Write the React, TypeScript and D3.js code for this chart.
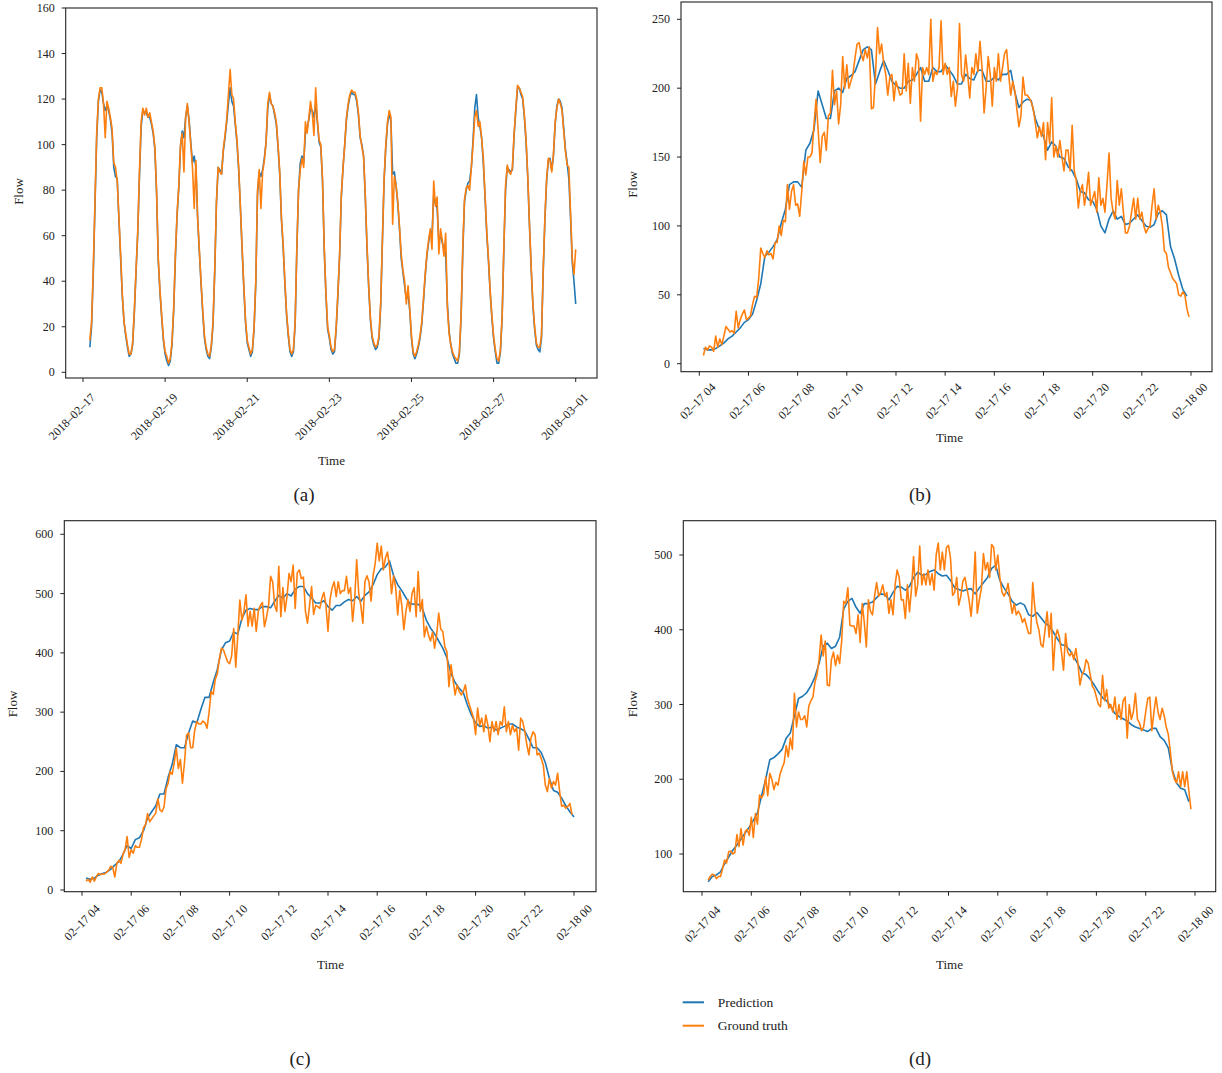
import React from 'react';
import * as d3 from 'd3';

// ---------- data ----------
// (a) hourly, from 2018-02-17 04:00 to 2018-03-01 00:00
const A_START = '2018-02-17T04:00:00Z';
const A_TRUTH = [
  14,22,45,75,105,120,125,125,118,103,119,116,112,107,92,90,84,68,52,34,22,17,12,8,8,
  13,27,45,62,88,110,116,113,116,112,114,110,106,99,80,50,36,25,15,9,7,4,6,13,28,
  52,70,82,100,105,88,112,118,110,100,90,72,93,68,54,40,27,16,11,8,7,12,22,45,75,
  90,88,87,98,104,111,122,133,122,120,110,102,90,73,55,38,23,14,11,8,10,20,40,80,89,
  72,88,93,101,118,123,118,117,114,110,100,88,68,56,40,26,17,10,8,10,22,55,80,89,94,
  90,110,105,112,119,114,104,125,111,102,100,85,55,35,20,16,11,9,10,20,35,52,78,90,100,
  112,118,122,124,123,123,120,114,104,99,95,78,56,38,24,16,13,11,12,16,30,58,85,100,110,
  115,112,65,86,82,75,64,52,45,40,30,38,28,16,9,7,9,12,16,22,32,43,52,58,63,
  54,84,73,77,52,63,58,51,61,28,17,12,9,7,6,5,9,25,55,76,81,82,80,90,100,
  112,115,108,110,103,94,78,62,50,36,25,16,10,6,5,10,25,55,82,91,88,87,90,105,116,
  126,125,123,121,113,102,86,65,46,30,20,13,11,11,16,45,68,85,94,93,88,96,110,116,120,
  118,115,106,97,91,90,70,50,43,54
];
const A_PRED = [
  11,20,43,73,103,119,124,123,118,115,117,115,111,105,90,86,85,67,50,33,22,16,11,7,8,
  12,26,44,61,86,108,115,114,114,112,112,109,105,98,79,49,35,24,14,8,5,3,5,12,27,
  50,69,81,99,106,103,112,117,111,101,92,95,90,68,53,39,26,15,10,7,6,11,21,44,74,
  90,89,87,97,103,110,118,125,119,117,109,101,89,72,54,37,22,13,10,7,9,19,39,78,88,
  86,89,94,101,116,122,118,117,113,109,99,87,67,55,39,25,16,9,7,9,21,54,80,92,95,
  92,105,107,111,116,115,112,118,110,101,99,84,54,34,19,15,10,8,9,19,34,51,77,90,100,
  111,117,121,123,122,122,119,113,103,100,95,77,55,37,23,15,12,10,11,15,29,57,84,99,109,
  114,110,87,88,82,74,63,50,44,38,32,35,27,15,8,6,8,11,15,21,31,42,51,57,62,
  60,78,74,72,58,60,57,54,52,30,18,12,8,6,4,4,8,24,53,75,80,83,84,90,102,
  116,122,112,108,103,92,77,61,49,35,24,15,9,4,4,9,24,54,80,90,89,88,89,104,115,
  125,125,122,120,112,101,85,64,45,29,19,12,10,9,15,44,67,84,93,94,89,95,109,117,120,
  119,116,107,98,92,85,68,48,40,30
];
const A_XTICKS = ['2018-02-17', '2018-02-19', '2018-02-21', '2018-02-23', '2018-02-25', '2018-02-27', '2018-03-01'];
const A_YTICKS = [0, 20, 40, 60, 80, 100, 120, 140, 160];

// (b) 5-min truth, 10-min prediction, from 04:10
const B_START = '2018-02-17T04:10:00Z';
const B_TRUTH = [
  6,12,10,13,12,9,20,12,18,14, 20,27,25,23,24,22,38,26,32,36,
  39,32,33,35,43,49,48,62,84,80, 77,82,79,80,76,88,88,100,93,104,
  103,130,112,125,130,115,116,107,125,147, 137,150,150,153,174,192,170,146,165,168,
  155,180,182,213,188,198,174,188,223,200, 217,200,205,210,222,232,233,225,220,228,
  222,230,185,186,210,244,225,232,218,210, 195,208,210,191,205,200,195,196,225,198,
  218,189,215,205,225,220,176,215,210,215, 210,250,205,212,210,215,249,210,218,210,
  215,194,205,187,200,247,210,205,224,210, 193,215,210,225,212,234,215,182,200,223,
  210,187,215,205,225,205,215,225,228,210, 195,205,198,185,172,180,208,195,195,193,
  190,185,175,164,172,165,175,148,175,160, 193,150,158,150,162,150,140,155,155,140,
  173,140,133,113,125,130,115,125,139,115, 120,125,110,135,115,120,110,130,153,120,
  110,105,133,115,127,110,95,95,100,110, 120,105,120,105,110,100,95,98,100,115,
  127,105,115,110,100,82,80,70,66,62, 60,58,50,49,52,50,40,34
];
const B_PRED = [
  11,10,10,11,13,15,18,20,23,26, 30,32,36,46,58,78,81,85,90,102,
  112,130,132,132,128,155,160,170,198,188, 178,178,198,200,197,207,209,212,220,228,
  230,228,203,212,220,213,205,202,200,200, 205,206,210,215,205,205,215,212,212,217,
  213,209,203,203,210,207,206,213,213,205, 205,208,206,210,210,213,197,186,190,192,
  191,178,170,165,155,161,158,150,149,143, 140,134,125,124,119,118,112,100,95,105,
  111,105,107,101,102,105,108,104,100,99, 101,109,111,108,85,76,64,54,49
];
const B_YTICKS = [0, 50, 100, 150, 200, 250];

// (c)
const C_START = '2018-02-17T04:10:00Z';
const C_TRUTH = [
  15,18,13,22,15,22,28,26,27,27, 30,33,40,38,22,45,50,45,60,68,
  90,55,68,62,75,72,72,85,105,110, 129,115,120,125,130,154,135,132,140,171,
  180,200,195,215,239,205,220,180,215,261, 265,240,240,270,284,280,280,285,282,273,
  300,335,330,355,365,390,408,405,395,385, 382,395,441,376,430,489,455,470,498,445,
  470,445,475,436,470,480,485,444,460,480, 529,520,480,470,546,461,510,470,495,534,
  520,548,475,535,540,525,528,470,450,480, 512,465,480,478,475,492,502,480,436,490,
  510,520,495,520,500,505,505,529,500,510, 453,490,557,500,480,450,520,530,520,487,
  530,550,585,555,580,540,560,570,545,500, 530,510,464,505,480,439,470,490,470,500,
  510,461,537,470,490,427,445,430,420,435, 408,430,467,440,436,410,402,343,380,355,
  329,346,335,329,335,346,323,312,301,290, 262,307,278,290,267,295,278,250,284,267,
  284,262,284,278,309,267,284,262,278,267, 273,236,290,284,267,245,228,256,267,262,
  228,231,222,211,177,166,188,172,183,177, 197,166,141,143,138,141,146,127
];
const C_PRED = [
  20,18,20,25,28,30,35,42,48,60, 75,70,85,88,100,122,132,142,162,162,
  190,212,245,240,240,265,285,282,305,325, 325,350,372,405,417,420,435,432,458,472,
  475,473,473,478,478,476,487,497,492,500, 496,507,512,512,500,493,484,484,488,478,
  472,480,480,486,490,488,495,487,497,503, 515,532,542,545,555,530,515,505,493,483,
  482,482,475,455,442,432,420,408,392,365, 350,340,333,312,295,282,276,277,273,275,
  270,273,276,280,280,275,272,268,255,240, 240,232,215,188,168,165,155,142,132,123
];
const C_YTICKS = [0, 100, 200, 300, 400, 500, 600];

// (d)
const D_START = '2018-02-17T04:15:00Z';
const D_TRUTH = [
  65,70,73,72,67,70,70,80,92,88, 103,104,100,102,126,110,134,112,130,133,
  125,149,122,154,140,179,175,180,203,178, 208,200,186,196,192,207,215,222,245,230,
  255,240,315,270,290,280,280,285,270,298, 305,310,330,340,360,393,365,385,326,325,
  360,370,352,366,355,385,438,435,456,406, 405,405,395,420,383,435,410,377,440,425,
  420,445,463,445,450,460,445,450,422,440, 420,460,480,470,440,440,415,460,424,455,
  498,445,460,512,460,475,460,480,460,475, 453,500,516,480,504,480,510,513,495,446,
  450,470,433,445,465,470,455,440,418,450, 504,422,440,455,502,480,490,470,514,510,
  480,500,470,451,445,450,462,440,422,435, 420,425,420,410,415,405,395,395,463,430,
  410,400,380,377,400,424,390,422,346,390, 400,390,370,346,395,370,365,370,360,375,
  355,326,340,345,360,355,340,325,320,310, 300,297,339,305,320,295,300,290,310,280,
  300,280,305,310,255,300,280,290,315,280, 275,265,270,290,308,310,265,290,310,290,
  280,295,285,270,260,237,210,200,195,210, 190,210,190,210,185,160
];
const D_PRED = [
  63,70,72,76,87,96,105,112,120,128, 136,145,155,178,200,226,229,234,240,255,
  262,285,308,311,316,325,337,355,378,382, 375,378,390,428,438,442,430,422,435,435,
  437,443,448,447,440,450,458,457,453,458, 470,477,473,474,478,480,475,472,473,466,
  456,454,452,454,455,448,456,463,470,482, 486,466,456,448,438,433,436,433,420,418,
  423,416,409,405,397,388,380,379,373,364, 354,342,340,334,326,317,309,305,297,288,
  284,281,278,273,270,268,266,264,268,268, 257,252,242,212,195,188,186,170
];
const D_YTICKS = [100, 200, 300, 400, 500];

const HOUR_TICKS = [
  '2018-02-17T04:00:00Z', '2018-02-17T06:00:00Z', '2018-02-17T08:00:00Z', '2018-02-17T10:00:00Z',
  '2018-02-17T12:00:00Z', '2018-02-17T14:00:00Z', '2018-02-17T16:00:00Z', '2018-02-17T18:00:00Z',
  '2018-02-17T20:00:00Z', '2018-02-17T22:00:00Z', '2018-02-18T00:00:00Z'
];

const LEGEND = ['Prediction', 'Ground truth'];
const CAPTIONS = ['(a)', '(b)', '(c)', '(d)'];

// ---------- drawing ----------
const BLUE = '#1f77b4';
const ORANGE = '#ff7f0e';
const INK = '#222';
const FONT = '"Liberation Serif", "Times New Roman", serif';

type Pt = { t: Date; v: number };
function toSeries(values: number[], start: string, stepMin: number): Pt[] {
  const t0 = Date.parse(start);
  return values.map((v, i) => ({ t: new Date(t0 + i * stepMin * 60000), v }));
}

const fmtDay = (d: Date) => d3.utcFormat('%Y-%m-%d')(d).replace(/-/g, '\u2013');
const fmtHour = (d: Date) => d3.utcFormat('%m-%d %H')(d).replace(/-/g, '\u2013');

type PanelProps = {
  frame: [number, number, number, number]; // left, right, top, bottom
  xDomain: [Date, Date];
  xRange: [number, number];
  yDomain: [number, number];
  yRange: [number, number];
  xTicks: Date[];
  fmt: (d: Date) => string;
  yTicks: number[];
  lab: [number, number];
  pred: Pt[];
  truth: Pt[];
  flow: [number, number];
  time: [number, number];
  caption: string;
  cap: [number, number];
};

function Panel(p: PanelProps) {
  const [l, r, t, b] = p.frame;
  const x = d3.scaleUtc().domain(p.xDomain).range(p.xRange);
  const y = d3.scaleLinear().domain(p.yDomain).range(p.yRange);
  const line = d3.line<Pt>().x((d) => x(d.t)).y((d) => y(d.v));
  return (
    <g>
      <path d={line(p.pred) || ''} fill="none" stroke={BLUE} strokeWidth={1.6} strokeLinejoin="round" />
      <path d={line(p.truth) || ''} fill="none" stroke={ORANGE} strokeWidth={1.6} strokeLinejoin="round" />
      <rect x={l} y={t} width={r - l} height={b - t} fill="none" stroke={INK} strokeWidth={1.1} />
      {p.yTicks.map((v) => (
        <g key={'y' + v}>
          <line x1={l - 4} x2={l} y1={y(v)} y2={y(v)} stroke={INK} strokeWidth={1} />
          <text x={l - 11} y={y(v)} textAnchor="end" dominantBaseline="central" fontSize={12} fill={INK}>
            {v}
          </text>
        </g>
      ))}
      {p.xTicks.map((d, i) => (
        <g key={'x' + i}>
          <line x1={x(d)} x2={x(d)} y1={b} y2={b + 4} stroke={INK} strokeWidth={1} />
          <text
            transform={`translate(${x(d) + p.lab[0]},${b + p.lab[1]}) rotate(-45)`}
            textAnchor="middle"
            dominantBaseline="central"
            fontSize={12}
            fill={INK}
          >
            {p.fmt(d)}
          </text>
        </g>
      ))}
      <text
        transform={`translate(${p.flow[0]},${p.flow[1]}) rotate(-90)`}
        textAnchor="middle"
        dominantBaseline="central"
        fontSize={13}
        fill={INK}
      >
        Flow
      </text>
      <text x={p.time[0]} y={p.time[1]} textAnchor="middle" dominantBaseline="central" fontSize={13} fill={INK}>
        Time
      </text>
      <text x={p.cap[0]} y={p.cap[1]} textAnchor="middle" dominantBaseline="central" fontSize={19} fill={INK}>
        {p.caption}
      </text>
    </g>
  );
}

export default function App() {
  const dayTicks = A_XTICKS.map((s) => new Date(s + 'T00:00:00Z'));
  const hourTicks = HOUR_TICKS.map((s) => new Date(s));
  const h0 = hourTicks[0];
  const h1 = hourTicks[hourTicks.length - 1];
  return (
    <svg
      width={1222}
      height={1073}
      style={{ position: 'absolute', left: 0, top: 0, background: '#fff', fontFamily: FONT }}
    >
      <rect x={0} y={0} width={1222} height={1073} fill="#fff" />
      <Panel
        frame={[65.7, 597, 8, 378]}
        xDomain={[dayTicks[0], dayTicks[dayTicks.length - 1]]}
        xRange={[83, 575.7]}
        yDomain={[0, 160]}
        yRange={[372.3, 8]}
        xTicks={dayTicks}
        fmt={fmtDay}
        yTicks={A_YTICKS}
        lab={[-11, 38.7]}
        pred={toSeries(A_PRED, A_START, 60)}
        truth={toSeries(A_TRUTH, A_START, 60)}
        flow={[18, 191.5]}
        time={[331.5, 460]}
        caption={CAPTIONS[0]}
        cap={[304, 494]}
      />
      <Panel
        frame={[681, 1212, 2, 371.7]}
        xDomain={[h0, h1]}
        xRange={[699.3, 1191]}
        yDomain={[0, 250]}
        yRange={[363.7, 19.3]}
        xTicks={hourTicks}
        fmt={fmtHour}
        yTicks={B_YTICKS}
        lab={[-1.5, 29.5]}
        pred={toSeries(B_PRED, B_START, 10)}
        truth={toSeries(B_TRUTH, B_START, 5)}
        flow={[632, 184.5]}
        time={[949.5, 437]}
        caption={CAPTIONS[1]}
        cap={[920, 494]}
      />
      <Panel
        frame={[64.3, 596, 520.7, 891.7]}
        xDomain={[h0, h1]}
        xRange={[82, 574]}
        yDomain={[0, 600]}
        yRange={[890, 534.3]}
        xTicks={hourTicks}
        fmt={fmtHour}
        yTicks={C_YTICKS}
        lab={[0, 30.8]}
        pred={toSeries(C_PRED, C_START, 10)}
        truth={toSeries(C_TRUTH, C_START, 5)}
        flow={[12.5, 704]}
        time={[330.5, 964.5]}
        caption={CAPTIONS[2]}
        cap={[300, 1058]}
      />
      <Panel
        frame={[683.3, 1215.7, 520.7, 891.7]}
        xDomain={[h0, h1]}
        xRange={[702, 1195]}
        yDomain={[100, 500]}
        yRange={[854, 555]}
        xTicks={hourTicks}
        fmt={fmtHour}
        yTicks={D_YTICKS}
        lab={[0.5, 32.5]}
        pred={toSeries(D_PRED, D_START, 10)}
        truth={toSeries(D_TRUTH, D_START, 5)}
        flow={[632, 704]}
        time={[949.5, 964]}
        caption={CAPTIONS[3]}
        cap={[920, 1058]}
      />
      {LEGEND.map((name, i) => (
        <g key={name}>
          <line
            x1={682.7}
            x2={704}
            y1={1002.3 + i * 23.4}
            y2={1002.3 + i * 23.4}
            stroke={i === 0 ? BLUE : ORANGE}
            strokeWidth={2}
          />
          <text x={717.7} y={1002.3 + i * 23.4} dominantBaseline="central" fontSize={13.5} fill={INK}>
            {name}
          </text>
        </g>
      ))}
    </svg>
  );
}
